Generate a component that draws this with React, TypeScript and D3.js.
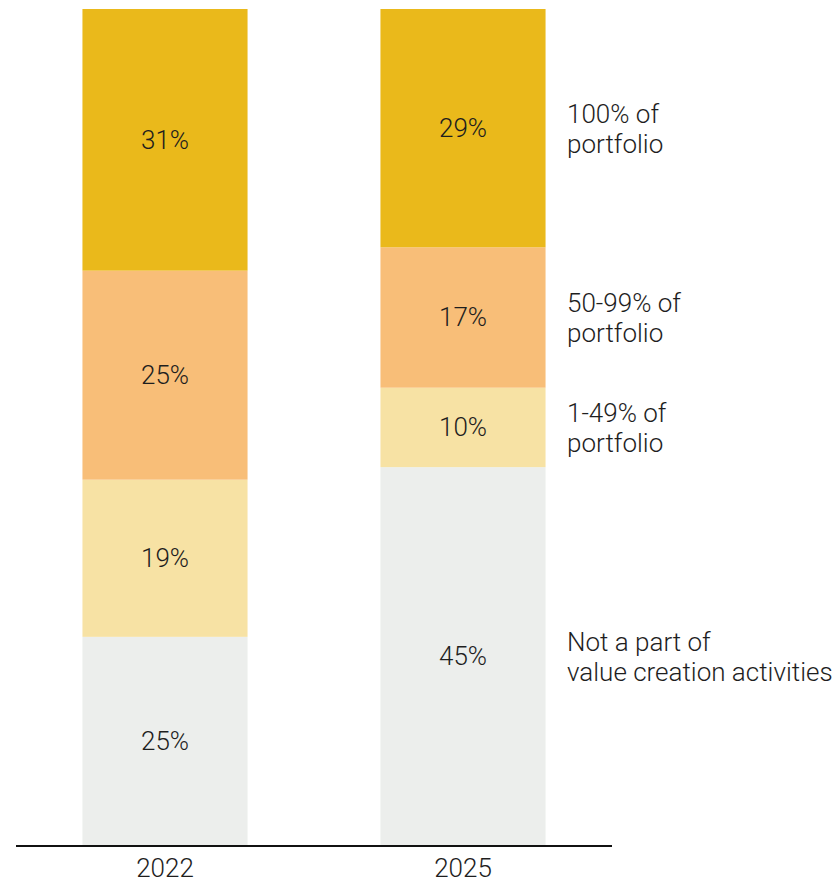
import React from "react";
import * as d3 from "d3";

const categories = ["2022", "2025"];
const seriesKeys = ["none", "low", "mid", "full"];
const seriesLabels = [
  ["Not a part of", "value creation activities"],
  ["1-49% of", "portfolio"],
  ["50-99% of", "portfolio"],
  ["100% of", "portfolio"],
];
const seriesColors = ["#ECEEEC", "#F7E2A4", "#F8BE78", "#EAB91B"];
const values2022 = [24.9, 18.8, 25.0, 31.3];
const values2025 = [45.2, 9.5, 16.8, 28.5];
const labels2022 = ["25%", "19%", "25%", "31%"];
const labels2025 = ["45%", "10%", "17%", "29%"];

const W = 834;
const H = 880;
const FONT = "Roboto, 'Liberation Sans', Arial, sans-serif";
const FS = 26;

export default function App() {
  const rows = categories.map((c, i) => {
    const vals = i === 0 ? values2022 : values2025;
    const r: any = { cat: c };
    seriesKeys.forEach((k, j) => (r[k] = vals[j]));
    return r;
  });
  const labels = [labels2022, labels2025];
  const stack = d3.stack().keys(seriesKeys)(rows as any);

  const x = d3
    .scaleBand()
    .domain(categories)
    .range([16, 612])
    .paddingInner(0.446)
    .paddingOuter(0.223);
  const y = d3.scaleLinear().domain([0, 100]).range([845, 9]);

  const lastCat = categories[categories.length - 1];
  const legendX = 567;

  return (
    <svg
      width={W}
      height={H}
      style={{ position: "absolute", left: 0, top: 0, background: "#fff" }}
      fontFamily={FONT}
      fontWeight={300}
    >
      {stack.map((s, si) => (
        <g key={s.key} fill={seriesColors[si]}>
          {s.map((d, ci) => (
            <rect
              key={ci}
              x={x(categories[ci])}
              width={x.bandwidth()}
              y={y(d[1])}
              height={y(d[0]) - y(d[1])}
            />
          ))}
        </g>
      ))}
      {stack.map((s, si) =>
        s.map((d, ci) => (
          <text
            key={`l${si}-${ci}`}
            x={(x(categories[ci]) as number) + x.bandwidth() / 2}
            y={(y(d[0]) + y(d[1])) / 2 + 9}
            textAnchor="middle"
            fontSize={FS}
            fill="#1e1e1e"
          >
            {labels[ci][si]}
          </text>
        ))
      )}
      {stack.map((s, si) => {
        const d = s[categories.indexOf(lastCat)];
        const cy = (y(d[0]) + y(d[1])) / 2;
        return (
          <text key={`lg${si}`} x={legendX} y={cy - 5} fontSize={FS} fill="#1e1e1e">
            <tspan x={legendX}>{seriesLabels[si][0]}</tspan>
            <tspan x={legendX} dy={30}>
              {seriesLabels[si][1]}
            </tspan>
          </text>
        );
      })}
      <line x1={16} x2={612} y1={846} y2={846} stroke="#111" strokeWidth={2} />
      {categories.map((c) => (
        <text
          key={c}
          x={(x(c) as number) + x.bandwidth() / 2}
          y={877}
          textAnchor="middle"
          fontSize={FS}
          fill="#1e1e1e"
        >
          {c}
        </text>
      ))}
    </svg>
  );
}
